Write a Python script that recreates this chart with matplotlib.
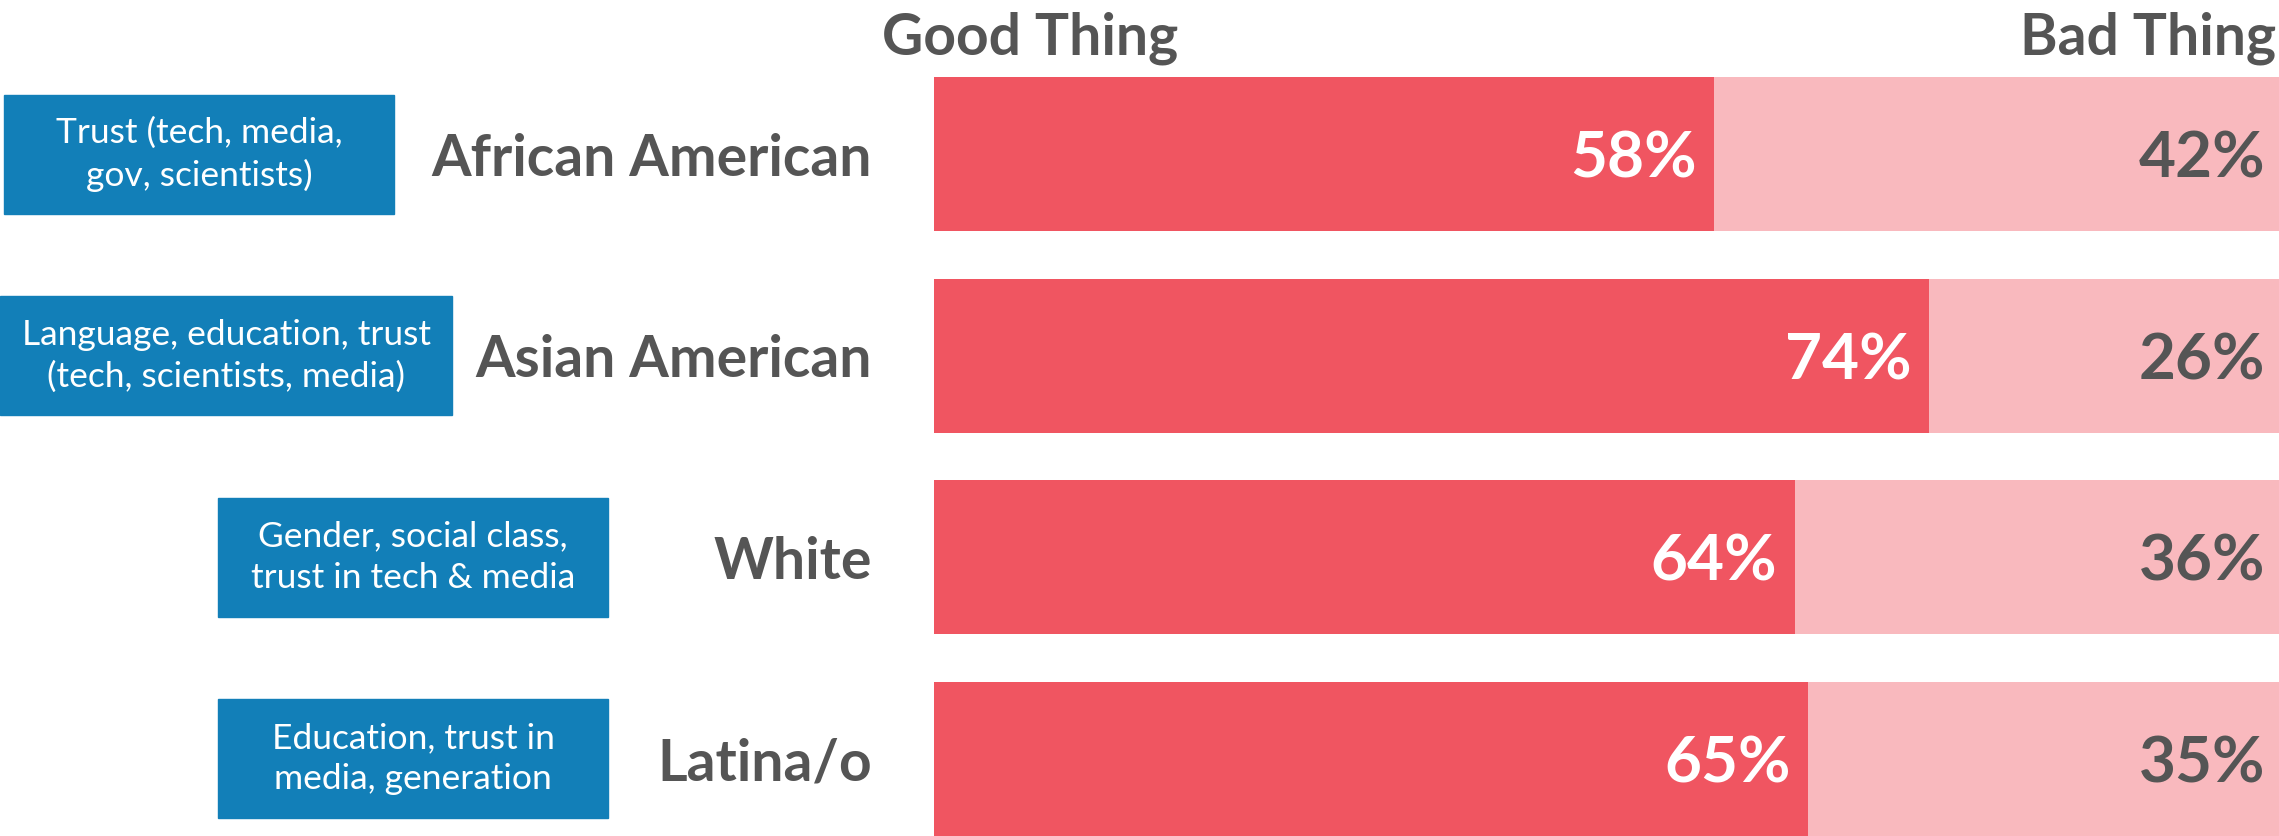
import matplotlib.pyplot as plt
from matplotlib.patches import Rectangle
from matplotlib.transforms import blended_transform_factory

# Data
groups = ['African American', 'Asian American', 'White', 'Latina/o']
good = [58, 74, 64, 65]
bad = [42, 26, 36, 35]
drivers = ['Trust (tech, media,\ngov, scientists)',
           'Language, education, trust\n(tech, scientists, media)',
           'Gender, social class,\ntrust in tech & media',
           'Education, trust in\nmedia, generation']

W, H = 2279, 836
dark_red = '#F05561'
light_red = '#F9B9BE'
blue = '#127FB8'
gray = '#555555'

fig = plt.figure(figsize=(W / 100, H / 100), dpi=100)
ax = fig.add_axes([934 / W, 0, 1 - 934 / W, (836 - 77) / H])

y = range(len(groups))
bh = 0.766
ax.barh(y, good, height=bh, color=dark_red)
ax.barh(y, bad, left=good, height=bh, color=light_red)
ax.set_xlim(0, 100)
ax.set_ylim(len(groups) - 1 + bh / 2, -bh / 2)
ax.axis('off')

dy = 0.025  # nudge text down a little
for i in y:
    ax.text(good[i] - 1.3, i + dy, f'{good[i]}%', ha='right', va='center',
            color='white', fontsize=46, fontweight='bold', family='Lato')
    ax.text(99, i + dy, f'{bad[i]}%', ha='right', va='center',
            color=gray, fontsize=46, fontweight='bold', family='Lato')

# labels and driver boxes, x in figure pixels
tr = blended_transform_factory(fig.transFigure, ax.transData)
box_x = [(4, 394), (0, 452), (218, 608), (218, 608)]
box_h = 0.59
for i, g in enumerate(groups):
    ax.text(872 / W, i + dy, g, transform=tr, ha='right', va='center',
            color=gray, fontsize=41, fontweight='bold', family='Lato', clip_on=False)
    x0, x1 = box_x[i]
    ax.add_patch(Rectangle((x0 / W, i - box_h / 2), (x1 - x0) / W, box_h,
                           transform=tr, color=blue, clip_on=False))
    ax.text((x0 + x1) / 2 / W, i, drivers[i], transform=tr, ha='center', va='center',
            color='white', fontsize=25.5, family='Lato', linespacing=1.35, clip_on=False)

fig.text(882 / W, 1 - 38 / H, 'Good Thing', ha='left', va='center',
         color=gray, fontsize=41, fontweight='bold', family='Lato')
fig.text(2276 / W, 1 - 38 / H, 'Bad Thing', ha='right', va='center',
         color=gray, fontsize=41, fontweight='bold', family='Lato')

fig.savefig('out.png', dpi=100)
